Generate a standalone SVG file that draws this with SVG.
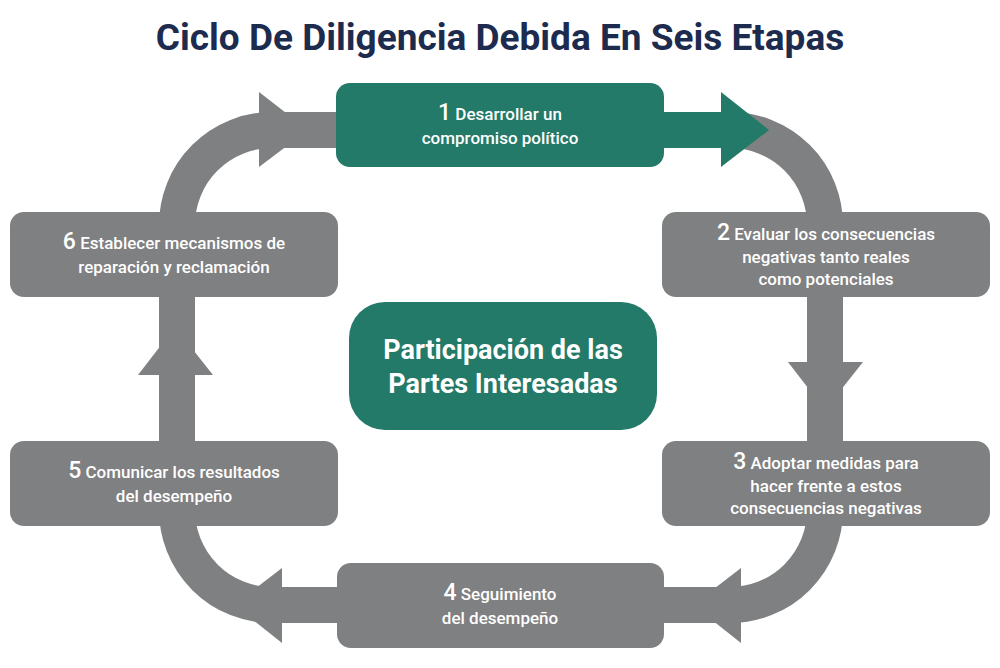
<svg xmlns="http://www.w3.org/2000/svg" width="1000" height="668" viewBox="0 0 1000 668">
<style>
.g{fill:#7f8081}.gs{fill:none;stroke:#7f8081;stroke-width:36}
.gr{fill:#237a68}
text{font-family:Roboto,"Liberation Sans",sans-serif;fill:#fff;font-weight:500;font-size:17px;text-anchor:middle}
.n{font-size:23px}
.t{fill:#1d2b4f;font-weight:700;font-size:37px}
.c{font-weight:700;font-size:27px}
</style>
<rect width="1000" height="668" fill="#fff"/>
<text class="t" x="500" y="50">Ciclo De Diligencia Debida En Seis Etapas</text>
<g id="connectors">
<rect class="gs" x="177" y="130" width="648" height="475" rx="95"/>
<polygon class="g" points="259,92 308,130 259,167"/>
<rect class="gr" x="650" y="112" width="80" height="36"/>
<polygon class="gr" points="721,92 769,130 721,167"/>
<polygon class="g" points="788,362 825,410 863,362"/>
<polygon class="g" points="741,568 693,605 741,643"/>
<polygon class="g" points="282,568 234,605 282,643"/>
<polygon class="g" points="138,375 175,327 213,375"/>
</g>
<g id="n1"><rect class="gr" x="336" y="83" width="328" height="84" rx="14"/>
<text x="500" y="120"><tspan class="n">1</tspan> Desarrollar un</text><text x="500" y="144">compromiso político</text></g>
<g id="n2"><rect class="g" x="662" y="212" width="328" height="85" rx="14"/>
<text x="826" y="240"><tspan class="n">2</tspan> Evaluar los consecuencias</text><text x="826" y="263">negativas tanto reales</text><text x="826" y="285">como potenciales</text></g>
<g id="n3"><rect class="g" x="662" y="441" width="328" height="85" rx="14"/>
<text x="826" y="469"><tspan class="n">3</tspan> Adoptar medidas para</text><text x="826" y="492">hacer frente a estos</text><text x="826" y="514">consecuencias negativas</text></g>
<g id="n4"><rect class="g" x="337" y="563" width="327" height="85" rx="14"/>
<text x="500" y="600"><tspan class="n">4</tspan> Seguimiento</text><text x="500" y="624">del desempeño</text></g>
<g id="n5"><rect class="g" x="10" y="441" width="328" height="85" rx="14"/>
<text x="174" y="478"><tspan class="n">5</tspan> Comunicar los resultados</text><text x="174" y="502">del desempeño</text></g>
<g id="n6"><rect class="g" x="10" y="212" width="328" height="85" rx="14"/>
<text x="174" y="249"><tspan class="n">6</tspan> Establecer mecanismos de</text><text x="174" y="273">reparación y reclamación</text></g>
<g id="center"><rect class="gr" x="349" y="302" width="308" height="128" rx="36"/>
<text class="c" x="503" y="359">Participación de las</text><text class="c" x="503" y="393">Partes Interesadas</text></g>
</svg>
